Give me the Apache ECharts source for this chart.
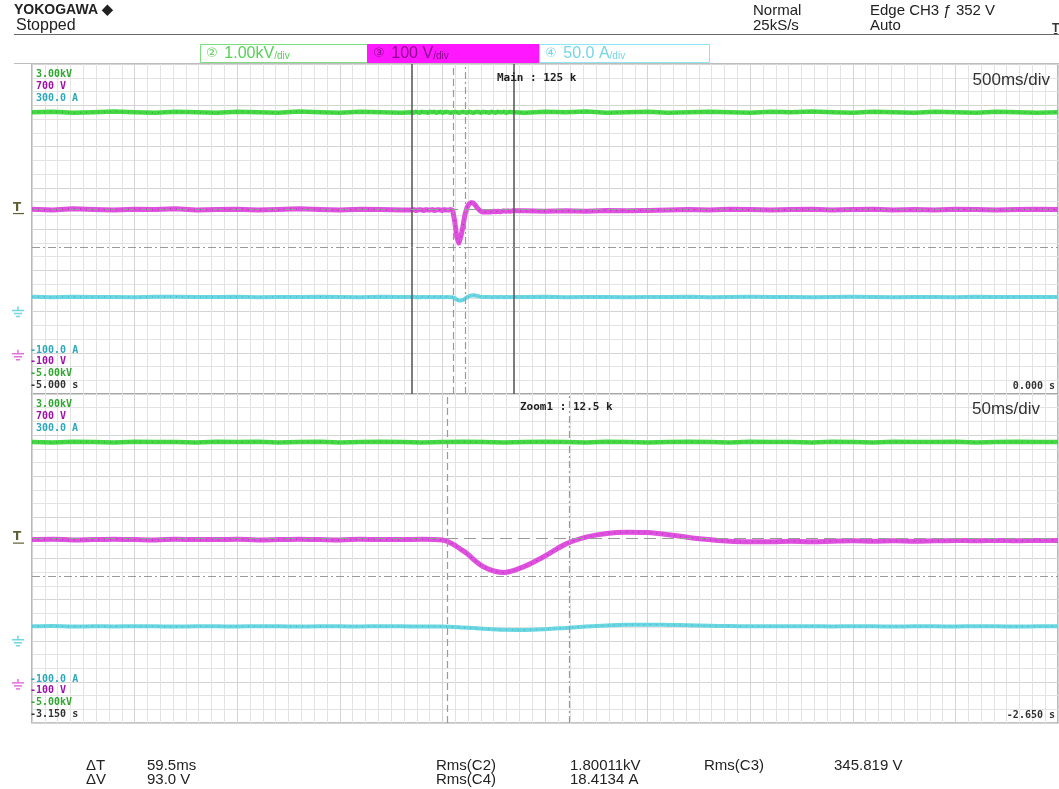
<!DOCTYPE html>
<html>
<head>
<meta charset="utf-8">
<script src="https://cdn.jsdelivr.net/npm/echarts/dist/echarts.min.js"></script>
<style>
  html, body { margin: 0; padding: 0; background: #ffffff; }
  #scope { width: 1059px; height: 789px; }
</style>
</head>
<body>
<div id="scope"></div>
<script>
// ---- acquisition record (times in ms) ----
// main window: -5.000 s .. 0.000 s, one point every 100 ms
const timeMain = [
  -5000, -4900, -4800, -4700, -4600, -4500, -4400, -4300, -4200, -4100,
  -4000, -3900, -3800, -3700, -3600, -3500, -3400, -3300, -3200, -3100,
  -3000, -2900, -2800, -2700, -2600, -2500, -2400, -2300, -2200, -2100,
  -2000, -1900, -1800, -1700, -1600, -1500, -1400, -1300, -1200, -1100,
  -1000, -900, -800, -700, -600, -500, -400, -300, -200, -100,
  0
];
// zoom window: -3.150 s .. -2.650 s, one point every 10 ms
const timeZoom = [
  -3150, -3140, -3130, -3120, -3110, -3100, -3090, -3080, -3070, -3060,
  -3050, -3040, -3030, -3020, -3010, -3000, -2990, -2980, -2970, -2960,
  -2950, -2940, -2930, -2920, -2910, -2900, -2890, -2880, -2870, -2860,
  -2850, -2840, -2830, -2820, -2810, -2800, -2790, -2780, -2770, -2760,
  -2750, -2740, -2730, -2720, -2710, -2700, -2690, -2680, -2670, -2660,
  -2650
];

// CH2 (kV)
const ch2Main = [
  1.83, 1.84, 1.82, 1.83, 1.85, 1.83, 1.82, 1.84, 1.83, 1.82,
  1.84, 1.83, 1.82, 1.85, 1.83, 1.82, 1.84, 1.83, 1.82, 1.84,
  1.83, 1.82, 1.84, 1.83, 1.82, 1.84, 1.83, 1.85, 1.82, 1.83,
  1.84, 1.82, 1.83, 1.84, 1.83, 1.82, 1.84, 1.83, 1.85, 1.83,
  1.82, 1.84, 1.83, 1.82, 1.84, 1.83, 1.82, 1.84, 1.83, 1.82,
  1.83
];
const ch2Zoom = [
  1.83, 1.82, 1.84, 1.83, 1.82, 1.84, 1.83, 1.83, 1.82, 1.84,
  1.83, 1.84, 1.82, 1.83, 1.84, 1.82, 1.83, 1.84, 1.83, 1.82,
  1.83, 1.84, 1.83, 1.82, 1.83, 1.84, 1.83, 1.82, 1.84, 1.83,
  1.82, 1.83, 1.84, 1.83, 1.82, 1.84, 1.83, 1.83, 1.82, 1.84,
  1.83, 1.82, 1.84, 1.83, 1.83, 1.84, 1.82, 1.83, 1.84, 1.83,
  1.83
];

// CH3 (V)
const ch3Main = [
  348, 346, 349, 347, 346, 348, 347, 349, 346, 347,
  348, 346, 347, 349, 347, 346, 348, 347, 346, 347,
  346, 306, 352, 344, 344, 343, 344, 343, 345, 344,
  345, 346, 347, 346, 348, 347, 346, 347, 348, 346,
  347, 348, 346, 347, 346, 348, 347, 346, 347, 348,
  347
];
const ch3Zoom = [
  346, 347, 345, 346, 347, 346, 345, 347, 346, 346,
  347, 345, 346, 347, 346, 345, 347, 346, 346, 347,
  345, 319, 280, 266, 281, 306, 335, 352, 361, 364,
  363, 358, 351, 346, 342, 341, 341, 342, 341, 342,
  343, 342, 343, 342, 343, 344, 343, 344, 343, 344,
  344
];

// CH4 (A)
const ch4Main = [
  17.8, 17.4, 17.9, 17.5, 17.7, 17.3, 17.8, 18.0, 17.5, 17.6,
  17.9, 17.4, 17.7, 17.5, 17.9, 17.6, 17.4, 17.8, 17.5, 17.7,
  17.4, 15.6, 18.3, 17.6, 17.5, 17.8, 17.4, 17.7, 17.6, 17.3,
  17.7, 17.5, 17.9, 17.4, 17.6, 17.8, 17.5, 17.7, 17.4, 17.6,
  17.8, 17.5, 17.3, 17.7, 17.6, 17.4, 17.8, 17.5, 17.6, 17.7,
  17.5
];
const ch4Zoom = [
  17.5, 17.8, 17.3, 17.6, 17.4, 17.7, 17.5, 17.2, 17.6, 17.5,
  17.4, 17.7, 17.5, 17.3, 17.6, 17.5, 17.4, 17.7, 17.5, 17.4,
  17.3, 16.2, 14.6, 13.4, 13.2, 14.0, 15.6, 17.3, 18.6, 19.4,
  19.6, 19.3, 18.8, 18.3, 17.9, 17.7, 17.6, 17.5, 17.7, 17.4,
  17.6, 17.5, 17.3, 17.6, 17.5, 17.4, 17.7, 17.5, 17.3, 17.6,
  17.5
];

// cursors and trigger
const cursorT = [-2947.5, -2888.0];   // ΔT = 59.5 ms
const cursorV = [349.0, 256.0];       // ΔV = 93.0 V
const triggerLevel = 352;             // V, CH3

// vertical scales: [min, max, per-div]
const scaleCH2 = [-5, 3, 1];
const scaleCH3 = [-100, 700, 100];
const scaleCH4 = [-100, 300, 50];

// screen annotations
const scaleTopLabels = ['3.00kV', '700 V', '300.0 A'];
const scaleBottomLabels = ['-100.0 A', '-100 V', '-5.00kV'];
const mainTimeLabels = ['-5.000 s', '0.000 s'];
const zoomTimeLabels = ['-3.150 s', '-2.650 s'];
const tabLabels = ['1.00kV', '100 V', '50.0 A'];
const measureLabels = [
  ['ΔT', '59.5ms'], ['ΔV', '93.0 V'],
  ['Rms(C2)', '1.80011kV'], ['Rms(C4)', '18.4134 A'], ['Rms(C3)', '345.819 V']
];

// ---- colours ----
const C_GREEN = '#44d844', D_GREEN = '#238f23';
const C_MAG = '#de50de', D_MAG = '#9a1a9a';
const C_CYAN = '#6ad6e2', D_CYAN = '#2f9fae';
const T_GREEN = '#2fa82f';
const T_MAG = '#a010a8';
const T_CYAN = '#2ba9bb';

const chart = echarts.init(document.getElementById('scope'), null, { renderer: 'canvas' });

const zoomStart = timeZoom[0];
const zoomEnd = timeZoom[timeZoom.length - 1];

function mainData(mainVals, zoomVals) {
  const pts = [];
  for (let i = 0; i < timeMain.length; i++) {
    if (timeMain[i] < zoomStart || timeMain[i] > zoomEnd) pts.push([timeMain[i], mainVals[i]]);
  }
  for (let i = 0; i < timeZoom.length; i++) pts.push([timeZoom[i], zoomVals[i]]);
  pts.sort((a, b) => a[0] - b[0]);
  return pts;
}
function zoomData(zoomVals) {
  return timeZoom.map((t, i) => [t, zoomVals[i]]);
}

const GRID_L = 32, GRID_W = 1026;
const grids = [
  { left: GRID_L, top: 64, width: GRID_W, height: 330 },
  { left: GRID_L, top: 394, width: GRID_W, height: 329 }
];

function xAxisFor(gridIndex, min, max, interval) {
  return {
    gridIndex, type: 'value', min, max, interval,
    axisLine: { show: false }, axisTick: { show: false }, axisLabel: { show: false },
    splitLine: { show: true, lineStyle: { color: '#d4d4d4', width: 1 } },
    minorTick: { show: false, splitNumber: 8 },
    minorSplitLine: { show: true, lineStyle: { color: '#e3e3e3', width: 1 } }
  };
}
function yAxisFor(gridIndex, sc, withGrid) {
  return {
    gridIndex, type: 'value', min: sc[0], max: sc[1], interval: sc[2],
    axisLine: { show: false }, axisTick: { show: false }, axisLabel: { show: false },
    splitLine: { show: withGrid, lineStyle: { color: '#d4d4d4', width: 1 } },
    minorTick: { show: false, splitNumber: 3 },
    minorSplitLine: { show: withGrid, lineStyle: { color: '#e3e3e3', width: 1 } }
  };
}

const cursorLineStyle = { color: '#9a9a9a', width: 1.2 };
function cursorMarks() {
  const d = [
    { xAxis: cursorT[0], lineStyle: Object.assign({}, cursorLineStyle, { type: [7, 4] }) },
    { xAxis: cursorT[1], lineStyle: Object.assign({}, cursorLineStyle, { type: [7, 3, 2, 3] }) },
    { yAxis: cursorV[0], lineStyle: Object.assign({}, cursorLineStyle, { type: [12, 6] }) },
    { yAxis: cursorV[1], lineStyle: Object.assign({}, cursorLineStyle, { type: [8, 3, 2, 3] }) }
  ];
  return { silent: true, symbol: ['none', 'none'], label: { show: false }, animation: false, data: d };
}
function windowMarks() {
  const st = { type: 'solid', color: '#5c5c5c', width: 1.6 };
  return {
    silent: true, symbol: ['none', 'none'], label: { show: false }, animation: false,
    data: [{ xAxis: zoomStart, lineStyle: st }, { xAxis: zoomEnd, lineStyle: st }]
  };
}

// a trace is a wide band plus a speckled darker core (sampled-noise look)
function trace(name, xi, yi, data, color, dark, width, extra) {
  const base = Object.assign({
    name, type: 'line', xAxisIndex: xi, yAxisIndex: yi, data,
    showSymbol: false, symbol: 'none', animation: false, silent: true,
    lineStyle: { color, width, join: 'round' }, z: 3
  }, extra || {});
  const core = {
    name: name + ' core', type: 'line', xAxisIndex: xi, yAxisIndex: yi, data,
    showSymbol: false, symbol: 'none', animation: false, silent: true,
    smooth: base.smooth || false,
    lineStyle: { color: dark, width: 1.3, opacity: 0.55, type: [1, 5] }, z: 5
  };
  return [base, core];
}

chart.setOption({
  backgroundColor: '#ffffff',
  animation: false,
  grid: grids.map(g => Object.assign({ show: true, borderColor: '#8a8a8a', borderWidth: 1.2, backgroundColor: 'transparent' }, g)),
  xAxis: [xAxisFor(0, -5000, 0, 500), xAxisFor(1, -3150, -2650, 50)],
  yAxis: [
    yAxisFor(0, scaleCH2, false), yAxisFor(0, scaleCH3, true), yAxisFor(0, scaleCH4, false),
    yAxisFor(1, scaleCH2, false), yAxisFor(1, scaleCH3, true), yAxisFor(1, scaleCH4, false)
  ],
  series: [].concat(
    trace('CH2 main', 0, 0, mainData(ch2Main, ch2Zoom), C_GREEN, D_GREEN, 4.5, { markLine: windowMarks(), z: 4 }),
    trace('CH3 main', 0, 1, mainData(ch3Main, ch3Zoom), C_MAG, D_MAG, 5, { markLine: cursorMarks() }),
    trace('CH4 main', 0, 2, mainData(ch4Main, ch4Zoom), C_CYAN, D_CYAN, 4),
    trace('CH2 zoom', 1, 3, zoomData(ch2Zoom), C_GREEN, D_GREEN, 4.5),
    trace('CH3 zoom', 1, 4, zoomData(ch3Zoom), C_MAG, D_MAG, 5, { smooth: 0.35, markLine: cursorMarks() }),
    trace('CH4 zoom', 1, 5, zoomData(ch4Zoom), C_CYAN, D_CYAN, 4, { smooth: 0.35 })
  )
});

// ---- screen text and markers ----
const HEAD_FONT = '"Liberation Sans", Arial, sans-serif';
const MONO = '"DejaVu Sans Mono", monospace';

function txt(x, y, text, fill, font, align, extra) {
  return Object.assign({
    type: 'text', silent: true, z: 20,
    style: { x, y, text, fill, font, align: align || 'left', verticalAlign: 'middle' }
  }, extra || {});
}

const g = [];
// header
g.push(txt(14, 10, 'YOKOGAWA ◆', '#222', 'bold 14px ' + HEAD_FONT));
g.push(txt(16, 26, 'Stopped', '#222', '16px ' + HEAD_FONT));
g.push(txt(753, 11, 'Normal', '#222', '15px ' + HEAD_FONT));
g.push(txt(753, 26, '25kS/s', '#222', '15px ' + HEAD_FONT));
g.push(txt(870, 11, 'Edge CH3 ƒ 352 V', '#222', '15px ' + HEAD_FONT));
g.push(txt(870, 26, 'Auto', '#222', '15px ' + HEAD_FONT));
g.push(txt(1052, 29, 'Ṯ', '#333', 'bold 12px ' + HEAD_FONT));
g.push({ type: 'line', silent: true, z: 20, shape: { x1: 14, y1: 34.5, x2: 1059, y2: 34.5 }, style: { stroke: '#6a6a6a', lineWidth: 1.2 } });

// channel tabs
const tabs = [
  { x: 200, w: 167, fill: '#ffffff', stroke: '#7ede7e', color: '#55d055', num: '②', v: tabLabels[0] },
  { x: 367, w: 172, fill: '#ff18ff', stroke: '#ff18ff', color: '#8a0a8a', num: '③', v: tabLabels[1] },
  { x: 539, w: 170, fill: '#ffffff', stroke: '#8ee6f0', color: '#74d6e4', num: '④', v: tabLabels[2] }
];
tabs.forEach(t => {
  g.push({ type: 'rect', silent: true, z: 19, shape: { x: t.x + 0.5, y: 44.5, width: t.w, height: 18 }, style: { fill: t.fill, stroke: t.stroke, lineWidth: 1 } });
  g.push({
    type: 'text', silent: true, z: 20,
    style: {
      x: t.x + 6, y: 54, verticalAlign: 'middle', fill: t.color,
      text: '{n|' + t.num + '}  {v|' + t.v + '}{d|/div}',
      rich: {
        n: { fill: t.color, font: '13px "DejaVu Sans", sans-serif' },
        v: { fill: t.color, font: '16px ' + HEAD_FONT },
        d: { fill: t.color, font: '10px ' + HEAD_FONT, padding: [5, 0, 0, 0] }
      }
    }
  });
});
g.push({ type: 'line', silent: true, z: 18, shape: { x1: 14, y1: 63.5, x2: 1059, y2: 63.5 }, style: { stroke: '#bdbdbd', lineWidth: 1 } });

// panel scale labels
const LBL = 'bold 10px ' + MONO;
function panelLabels(top, bottom, timeLabels) {
  const topCols = [T_GREEN, T_MAG, T_CYAN];
  scaleTopLabels.forEach((s, i) => g.push(txt(36, top + 10 + i * 12, s, topCols[i], LBL)));
  const botCols = [T_CYAN, T_MAG, T_GREEN];
  scaleBottomLabels.forEach((s, i) => g.push(txt(30, bottom - 44 + i * 11.5, s, botCols[i], LBL)));
  g.push(txt(30, bottom - 9, timeLabels[0], '#333', LBL));
  g.push(txt(1055, bottom - 8, timeLabels[1], '#333', LBL, 'right'));
}
panelLabels(64, 394, mainTimeLabels);
panelLabels(394, 723, zoomTimeLabels);

g.push(txt(497, 78, 'Main : 125 k', '#222', 'bold 11px ' + MONO));
g.push(txt(520, 407, 'Zoom1 : 12.5 k', '#222', 'bold 11px ' + MONO));
g.push(txt(1050, 80, '500ms/div', '#333', '17px ' + HEAD_FONT, 'right'));
g.push(txt(1040, 409, '50ms/div', '#333', '17px ' + HEAD_FONT, 'right'));

// trigger level and ground markers, placed through the channel scales
function groundMark(x, y, color) {
  g.push({ type: 'line', silent: true, z: 20, shape: { x1: x, y1: y - 4, x2: x + 12, y2: y - 4 }, style: { stroke: color, lineWidth: 1.5 } });
  g.push({ type: 'line', silent: true, z: 20, shape: { x1: x + 2, y1: y - 1, x2: x + 10, y2: y - 1 }, style: { stroke: color, lineWidth: 1.5 } });
  g.push({ type: 'line', silent: true, z: 20, shape: { x1: x + 4, y1: y + 2, x2: x + 8, y2: y + 2 }, style: { stroke: color, lineWidth: 1.5 } });
  g.push({ type: 'line', silent: true, z: 20, shape: { x1: x + 6, y1: y - 8, x2: x + 6, y2: y - 4 }, style: { stroke: color, lineWidth: 1.5 } });
}
[[1, 2], [4, 5]].forEach(([magAxis, cyanAxis]) => {
  const yTrig = chart.convertToPixel({ yAxisIndex: magAxis }, triggerLevel);
  g.push(txt(13, yTrig, 'T', '#5e6034', 'bold 12px "DejaVu Sans", sans-serif'));
  g.push({ type: 'line', silent: true, z: 20, shape: { x1: 13, y1: yTrig + 6, x2: 24, y2: yTrig + 6 }, style: { stroke: '#5e6034', lineWidth: 1.2 } });
  groundMark(12, chart.convertToPixel({ yAxisIndex: cyanAxis }, 0) + 3, '#6fd6e2');
  groundMark(12, chart.convertToPixel({ yAxisIndex: magAxis }, 0) + 5, '#e070e0');
});

// measurement readout
const MFONT = '15px ' + HEAD_FONT;
g.push(txt(86, 766, measureLabels[0][0], '#222', MFONT));
g.push(txt(147, 766, measureLabels[0][1], '#222', MFONT));
g.push(txt(86, 780, measureLabels[1][0], '#222', MFONT));
g.push(txt(147, 780, measureLabels[1][1], '#222', MFONT));
g.push(txt(436, 766, measureLabels[2][0], '#222', MFONT));
g.push(txt(570, 766, measureLabels[2][1], '#222', MFONT));
g.push(txt(436, 780, measureLabels[3][0], '#222', MFONT));
g.push(txt(570, 780, measureLabels[3][1], '#222', MFONT));
g.push(txt(704, 766, measureLabels[4][0], '#222', MFONT));
g.push(txt(834, 766, measureLabels[4][1], '#222', MFONT));

chart.setOption({ graphic: g });
</script>
</body>
</html>
